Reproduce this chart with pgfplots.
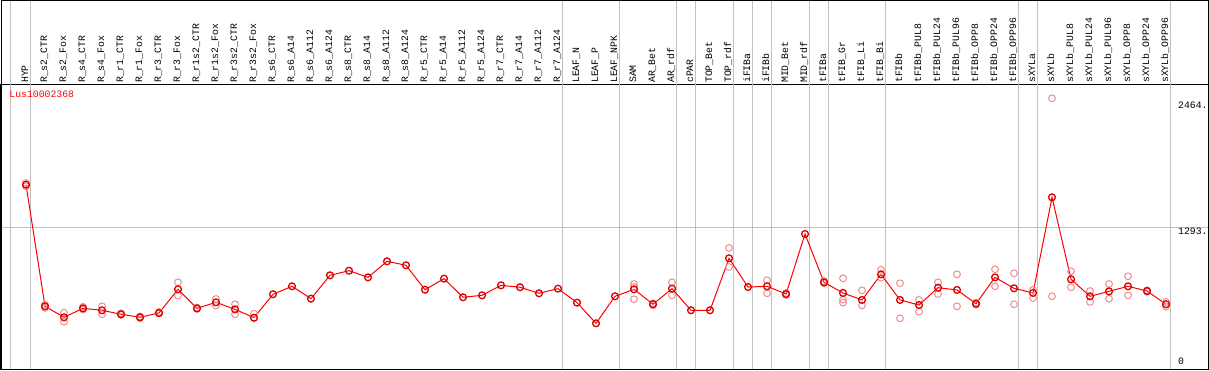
\documentclass[border=0pt]{standalone}
\usepackage{fontspec}
\setmainfont{Liberation Mono}
\usepackage{pgfplots}
\pgfplotsset{compat=1.18}
\definecolor{repcol}{HTML}{F08C8C}
\definecolor{gridg}{HTML}{C0C0C0}
\begin{document}
\begin{tikzpicture}
\useasboundingbox (0,0) rectangle (1209pt,370pt);
\begin{axis}[
  scale only axis, width=1207pt, height=284pt,
  at={(1pt,1pt)}, anchor=south west,
  xmin=-1.316, xmax=62.21, ymin=-17.7, ymax=2621.7,
  clip=false,
  axis line style={black, line width=1pt},
  xtick={0,...,60},
  xticklabel pos=upper,
  xticklabels={HYP,R\_s2\_CTR,R\_s2\_Fox,R\_s4\_CTR,R\_s4\_Fox,R\_r1\_CTR,R\_r1\_Fox,R\_r3\_CTR,R\_r3\_Fox,R\_r1s2\_CTR,R\_r1s2\_Fox,R\_r3s2\_CTR,R\_r3s2\_Fox,R\_s6\_CTR,R\_s6\_A14,R\_s6\_A112,R\_s6\_A124,R\_s8\_CTR,R\_s8\_A14,R\_s8\_A112,R\_s8\_A124,R\_r5\_CTR,R\_r5\_A14,R\_r5\_A112,R\_r5\_A124,R\_r7\_CTR,R\_r7\_A14,R\_r7\_A112,R\_r7\_A124,LEAF\_N,LEAF\_P,LEAF\_NPK,SAM,AR\_Bet,AR\_rdf,cPAR,TOP\_Bet,TOP\_rdf,iFIBa,iFIBb,MID\_Bet,MID\_rdf,tFIBa,tFIB\_Gr,tFIB\_Li,tFIB\_Bi,tFIBb,tFIBb\_PUL8,tFIBb\_PUL24,tFIBb\_PUL96,tFIBb\_OPP8,tFIBb\_OPP24,tFIBb\_OPP96,sXYLa,sXYLb,sXYLb\_PUL8,sXYLb\_PUL24,sXYLb\_PUL96,sXYLb\_OPP8,sXYLb\_OPP24,sXYLb\_OPP96},
  xticklabel style={xshift=2pt, rotate=90, anchor=base west, inner sep=2pt, font=\fontsize{9.8pt}{10pt}\selectfont},
  major tick length=0pt,
  ytick={1293}, yticklabels={},
  ymajorgrids=true,
  grid style={gridg, line width=1pt},
]
% group separators
\pgfplotsinvokeforeach{-0.8,0.25,28.25,31.25,34.25,35.25,37.25,38.25,39.25,41.25,42.25,45.25,52.25,53.25,60.25}{
  \draw[gridg, line width=1pt] ({axis cs:#1,0}|-{rel axis cs:0,0}) -- ({axis cs:#1,0}|-{rel axis cs:0,1.2975});
}
% replicate points
\addplot[only marks, mark=o, mark size=3.4pt, repcol, line width=1pt] coordinates {
(0,1680)(0,1710)(1,580)(1,550)(2,506)(2,422)(3,560)(3,535)(4,565)(4,491)
(5,500)(5,485)(6,470)(6,455)(7,512)(7,498)(8,788)(8,664)(9,553)(9,540)
(10,633)(10,571)(11,584)(11,491)(12,496)(12,455)
(32,772)(32,630)(32,745)(33,575)(33,593)(34,788)(34,667)(37,1107)(37,930)
(39,807)(39,686)(40,670)(40,688)(42,800)(42,780)(43,825)(43,627)(43,599)
(44,713)(44,574)(45,905)(45,831)(46,779)(46,454)(47,624)(47,515)(48,788)(48,679)
(49,862)(49,565)(50,598)(50,580)(51,909)(51,751)(52,872)(52,584)(53,717)(53,642)
(54,2498)(54,658)(55,890)(55,742)(56,707)(56,605)(57,772)(57,636)(58,844)(58,667)
(59,714)(59,700)(60,605)(60,563)
};
% mean profile
\addplot[red, line width=1pt, mark=o, mark size=3.4pt, mark options={line width=1.3pt, red!85!black}] coordinates {
(0,1695)(1,565)(2,463)(3,546)(4,528)(5,491)(6,463)(7,503)(8,723)(9,546)
(10,602)(11,537)(12,459)(13,677)(14,751)(15,636)(16,853)(17,896)(18,834)(19,983)
(20,946)(21,719)(22,822)(23,649)(24,667)(25,760)(26,742)(27,686)(28,729)(29,599)
(30,407)(31,658)(32,723)(33,584)(34,729)(35,528)(36,528)(37,1011)(38,744)(39,751)
(40,679)(41,1237)(42,788)(43,689)(44,624)(45,862)(46,624)(47,577)(48,738)(49,717)
(50,589)(51,834)(52,732)(53,689)(54,1578)(55,816)(56,658)(57,704)(58,751)(59,707)
(60,584)
};
\node[anchor=north west, inner sep=0pt, font=\fontsize{9.8pt}{10pt}\selectfont] at (axis cs:60.63,2464) {2464.};
\node[anchor=north west, inner sep=0pt, font=\fontsize{9.8pt}{10pt}\selectfont] at (axis cs:60.63,1293) {1293.};
\node[anchor=south west, inner sep=0pt, font=\fontsize{9.8pt}{10pt}\selectfont] at (axis cs:60.63,20) {0};
\node[anchor=west, inner sep=0pt, text=red, font=\fontsize{9.8pt}{10pt}\selectfont] at (rel axis cs:0.0068,0.9665) {Lus10002368};
\end{axis}
\draw[black, line width=1pt] (1pt,1pt) rectangle (1208.5pt,369.5pt);
\end{tikzpicture}
\end{document}
